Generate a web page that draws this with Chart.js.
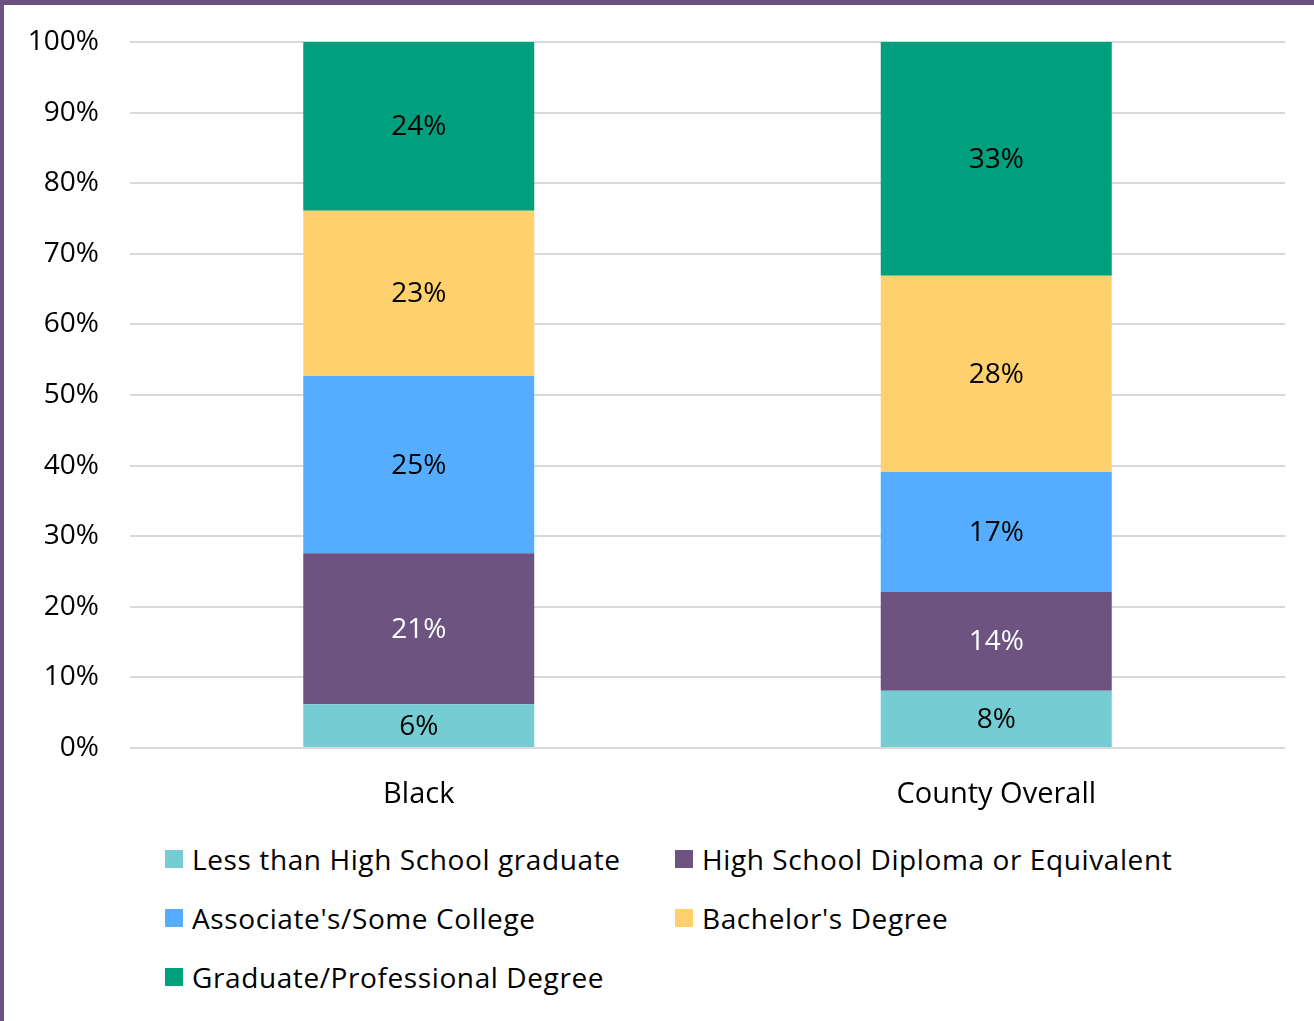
<!DOCTYPE html>
<html lang="en">
<head>
    <meta charset="UTF-8">
    <title>Educational Attainment</title>
    <script src="https://cdn.jsdelivr.net/npm/chart.js"></script>
    <style>
        * {
            margin: 0;
            padding: 0;
            box-sizing: border-box;
            font-family: "Open Sans", sans-serif;
        }

        body {
            width: 1314px;
            height: 1021px;
            background: #ffffff;
            overflow: hidden;
            position: relative;
        }

        .frame {
            position: absolute;
            left: 0;
            top: 0;
            width: 1314px;
            height: 1021px;
            border-top: 5px solid #6b5082;
            border-left: 4px solid #6b5082;
        }

        .chart-box {
            position: absolute;
            left: 4px;
            top: 5px;
            width: 1310px;
            height: 815px;
        }

        .legend {
            position: absolute;
            left: 165px;
            top: 829px;
            display: grid;
            grid-template-columns: 510px auto;
            grid-auto-rows: 59px;
        }

        .legend-item {
            display: flex;
            align-items: center;
            font-size: 28px;
            letter-spacing: 0.6px;
            color: #000;
        }

        .legend-item span.box {
            width: 18px;
            height: 18px;
            margin-right: 9px;
            flex: none;
        }
    </style>
</head>
<body>
    <div class="frame"></div>
    <div class="chart-box"><canvas id="eduChart"></canvas></div>
    <div class="legend" id="legend"></div>

    <script>
        const categories = ["Black", "County Overall"];
        const seriesNames = [
            "Less than High School graduate",
            "High School Diploma or Equivalent",
            "Associate's/Some College",
            "Bachelor's Degree",
            "Graduate/Professional Degree"
        ];
        const lessThanHS = [6.2, 8.1];
        const hsDiploma = [21.4, 14.0];
        const someCollege = [25.1, 17.0];
        const bachelors = [23.4, 27.8];
        const graduate = [23.9, 33.1];
        const yTicks = [0, 10, 20, 30, 40, 50, 60, 70, 80, 90, 100];

        const colors = ["#75cdd3", "#6d5480", "#56adff", "#ffd06e", "#009f7d"];
        const labelColors = ["#000", "#fff", "#000", "#000", "#000"];
        const seriesValues = [lessThanHS, hsDiploma, someCollege, bachelors, graduate];

        // legend in two columns, like the original
        const legendDiv = document.getElementById("legend");
        seriesNames.forEach((name, i) => {
            const item = document.createElement("div");
            item.className = "legend-item";
            item.innerHTML = `<span class="box" style="background:${colors[i]}"></span>${name}`;
            legendDiv.appendChild(item);
        });

        // values written in the middle of each segment
        const segLabels = {
            id: "segLabels",
            afterDatasetsDraw(chart) {
                const ctx = chart.ctx;
                ctx.save();
                ctx.font = "28px 'Open Sans'";
                ctx.textAlign = "center";
                ctx.textBaseline = "middle";
                chart.data.datasets.forEach((ds, i) => {
                    const meta = chart.getDatasetMeta(i);
                    meta.data.forEach((bar, j) => {
                        const p = bar.getProps(["x", "y", "base"], true);
                        ctx.fillStyle = labelColors[i];
                        ctx.fillText(Math.round(ds.data[j]) + "%", p.x, (p.y + p.base) / 2 + 1);
                    });
                });
                ctx.restore();
            }
        };

        new Chart(document.getElementById("eduChart"), {
            type: "bar",
            data: {
                labels: categories,
                datasets: seriesNames.map((name, i) => ({
                    label: name,
                    data: seriesValues[i],
                    backgroundColor: colors[i],
                    barPercentage: 0.4,
                    categoryPercentage: 1
                }))
            },
            options: {
                responsive: true,
                maintainAspectRatio: false,
                animation: false,
                layout: { padding: { top: 37, right: 29, bottom: 2, left: 0 } },
                plugins: {
                    legend: { display: false },
                    tooltip: { enabled: false }
                },
                scales: {
                    x: {
                        stacked: true,
                        grid: { display: false },
                        border: { display: false },
                        ticks: { color: "#000", font: { size: 29, family: "Open Sans" }, padding: 21 },
                        afterFit(scale) { scale.height = 70; }
                    },
                    y: {
                        stacked: true,
                        min: 0,
                        max: 100,
                        afterBuildTicks(scale) { scale.ticks = yTicks.map(v => ({ value: v })); },
                        grid: { color: "#d9d9d9", lineWidth: 2, drawTicks: false },
                        border: { display: false },
                        ticks: {
                            color: "#000",
                            font: { size: 28, family: "Open Sans" },
                            padding: 31,
                            callback: v => v + "%"
                        },
                        afterFit(scale) {
                            scale.width = 126;
                            scale.paddingTop = 0;
                            scale.paddingBottom = 0;
                        }
                    }
                }
            },
            plugins: [segLabels]
        });
    </script>
</body>
</html>
